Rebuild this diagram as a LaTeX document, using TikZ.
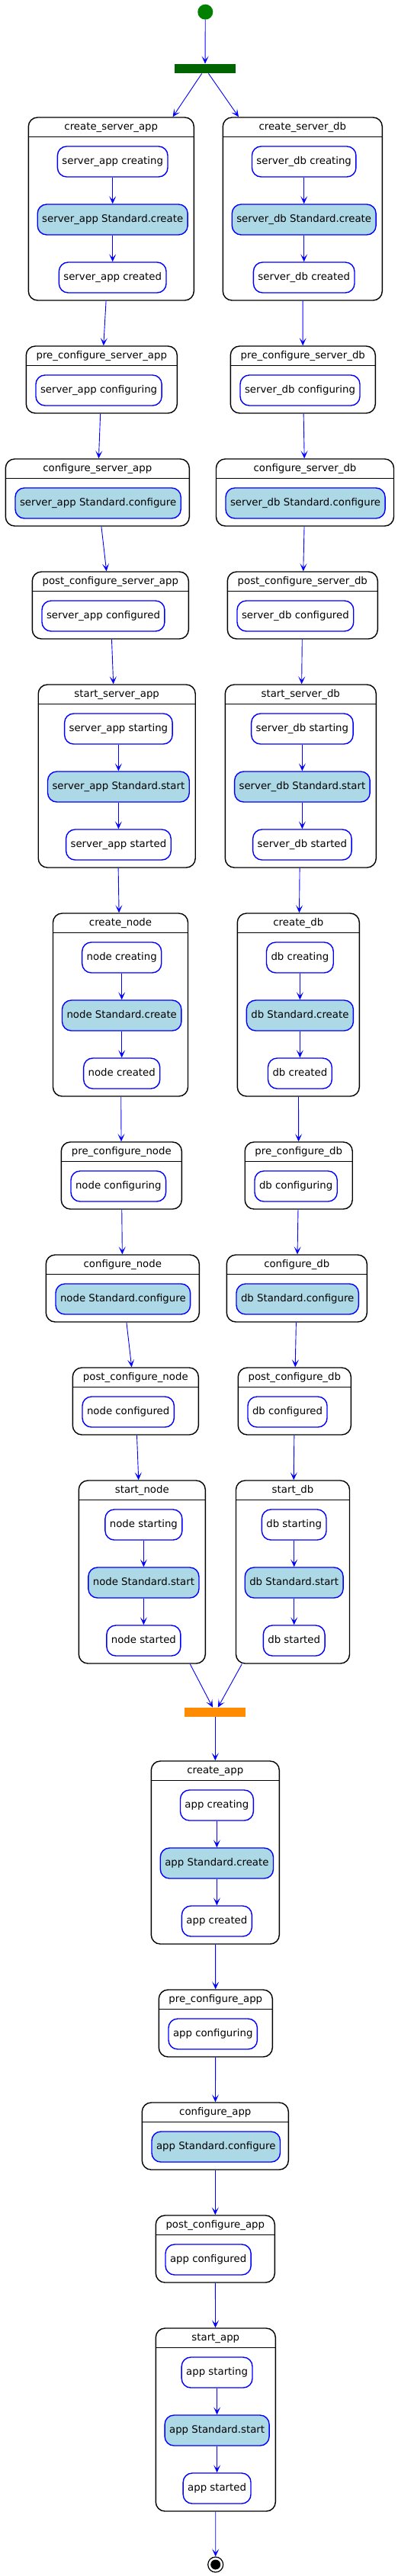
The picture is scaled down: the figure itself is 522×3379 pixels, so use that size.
\documentclass[tikz,border=0pt]{standalone}
\usepackage{fontspec}
\setmainfont{DejaVu Sans}
\usetikzlibrary{arrows.meta}
\definecolor{stdblue}{HTML}{ADD8E6}
\definecolor{forkgreen}{HTML}{006400}
\definecolor{startgreen}{HTML}{008000}
\definecolor{joinorange}{HTML}{FF8C00}

\begin{document}
\begin{tikzpicture}[x=1pt, y=-1pt, >={Stealth[length=10pt, width=9pt, inset=5pt]},
		every node/.style={font=\fontsize{13.3}{16}\selectfont, text height=9.6pt, text depth=2.8pt},
		comp/.style={draw, line width=1.4pt, rounded corners=12pt, inner sep=0pt},
		title/.style={inner sep=0pt},
		act/.style={draw=blue, line width=1.4pt, rounded corners=12pt, minimum height=40pt, inner xsep=6pt, inner ysep=0pt, fill=white},
		std/.style={act, fill=stdblue},
		sep/.style={line width=1.4pt},
		flow/.style={draw=blue, line width=0.9pt, ->},
		bar/.style={inner sep=0pt, minimum width=80pt, minimum height=8pt}]
		\useasboundingbox (0,0) rectangle (522,3379);
		%start and fork
			\node[circle, fill=startgreen, inner sep=0pt, minimum size=20pt] (start) at (269.3,15.7) {};
			\node[bar, fill=forkgreen] (fork) at (269,90) {};
			\draw[flow] (start) -- (fork);
		%left column
			%create_server_app
			\node[comp, minimum width=217pt, minimum height=240pt] (csa) at (145.8,274) {};
			\node[title] (csa-t) at (145.8,167) {create\_server\_app};
			\draw[sep] ([yshift=-26pt]csa.north west) -- ([yshift=-26pt]csa.north east);
			\node[act] (csa1) at (147.7,212) {server\_app creating};
			\node[std] (csa2) at (147.7,288) {server\_app Standard.create};
			\node[act] (csa3) at (147.7,364) {server\_app created};
			\draw[flow] (csa1) -- (csa2);
			\draw[flow] (csa2) -- (csa3);
			%pre_configure_server_app
			\node[comp, minimum width=198pt, minimum height=88pt] (pcsa) at (133.3,498) {};
			\node[title] (pcsa-t) at (133.3,467) {pre\_configure\_server\_app};
			\draw[sep] ([yshift=-26pt]pcsa.north west) -- ([yshift=-26pt]pcsa.north east);
			\node[act, anchor=west] (pcsa1) at (46.3,512) {server\_app configuring};
			%configure_server_app
			\node[comp, minimum width=241pt, minimum height=88pt] (cfsa) at (127.8,646) {};
			\node[title] (cfsa-t) at (127.8,615) {configure\_server\_app};
			\draw[sep] ([yshift=-26pt]cfsa.north west) -- ([yshift=-26pt]cfsa.north east);
			\node[std, anchor=west] (cfsa1) at (19.3,660) {server\_app Standard.configure};
			%post_configure_server_app
			\node[comp, minimum width=205pt, minimum height=88pt] (posa) at (144.8,794) {};
			\node[title] (posa-t) at (144.8,763) {post\_configure\_server\_app};
			\draw[sep] ([yshift=-26pt]posa.north west) -- ([yshift=-26pt]posa.north east);
			\node[act, anchor=west] (posa1) at (54.3,808) {server\_app configured};
			%start_server_app
			\node[comp, minimum width=206pt, minimum height=240pt] (ssa) at (153.2,1018) {};
			\node[title] (ssa-t) at (153.2,911) {start\_server\_app};
			\draw[sep] ([yshift=-26pt]ssa.north west) -- ([yshift=-26pt]ssa.north east);
			\node[act] (ssa1) at (155.4,956) {server\_app starting};
			\node[std] (ssa2) at (155.4,1032) {server\_app Standard.start};
			\node[act] (ssa3) at (155.4,1108) {server\_app started};
			\draw[flow] (ssa1) -- (ssa2);
			\draw[flow] (ssa2) -- (ssa3);
			%create_node
			\node[comp, minimum width=177pt, minimum height=240pt] (cn) at (158,1318) {};
			\node[title] (cn-t) at (158,1211) {create\_node};
			\draw[sep] ([yshift=-26pt]cn.north west) -- ([yshift=-26pt]cn.north east);
			\node[act] (cn1) at (159.7,1256) {node creating};
			\node[std] (cn2) at (159.7,1332) {node Standard.create};
			\node[act] (cn3) at (159.7,1408) {node created};
			\draw[flow] (cn1) -- (cn2);
			\draw[flow] (cn2) -- (cn3);
			%pre_configure_node
			\node[comp, minimum width=158pt, minimum height=88pt] (pcn) at (159.3,1542) {};
			\node[title] (pcn-t) at (159.3,1511) {pre\_configure\_node};
			\draw[sep] ([yshift=-26pt]pcn.north west) -- ([yshift=-26pt]pcn.north east);
			\node[act, anchor=west] (pcn1) at (92.3,1556) {node configuring};
			%configure_node
			\node[comp, minimum width=201pt, minimum height=88pt] (cfn) at (160.8,1690) {};
			\node[title] (cfn-t) at (160.8,1659) {configure\_node};
			\draw[sep] ([yshift=-26pt]cfn.north west) -- ([yshift=-26pt]cfn.north east);
			\node[std, anchor=west] (cfn1) at (72.3,1704) {node Standard.configure};
			%post_configure_node
			\node[comp, minimum width=165pt, minimum height=88pt] (pocn) at (177.8,1838) {};
			\node[title] (pocn-t) at (177.8,1807) {post\_configure\_node};
			\draw[sep] ([yshift=-26pt]pocn.north west) -- ([yshift=-26pt]pocn.north east);
			\node[act, anchor=west] (pocn1) at (107.3,1852) {node configured};
			%start_node
			\node[comp, minimum width=166pt, minimum height=240pt] (sn) at (186.3,2062) {};
			\node[title] (sn-t) at (186.3,1955) {start\_node};
			\draw[sep] ([yshift=-26pt]sn.north west) -- ([yshift=-26pt]sn.north east);
			\node[act] (sn1) at (188.4,2000) {node starting};
			\node[std] (sn2) at (188.4,2076) {node Standard.start};
			\node[act] (sn3) at (188.4,2152) {node started};
			\draw[flow] (sn1) -- (sn2);
			\draw[flow] (sn2) -- (sn3);
			%connectors
			\draw[flow] (fork) -- (csa);
			\draw[flow] (csa) -- (pcsa);
			\draw[flow] (pcsa) -- (cfsa);
			\draw[flow] (cfsa) -- (posa);
			\draw[flow] (posa) -- (ssa);
			\draw[flow] (ssa) -- (cn);
			\draw[flow] (cn) -- (pcn);
			\draw[flow] (pcn) -- (cfn);
			\draw[flow] (cfn) -- (pocn);
			\draw[flow] (pocn) -- (sn);
		%right column
			%create_server_db
			\node[comp, minimum width=209pt, minimum height=240pt] (csd) at (396.8,274) {};
			\node[title] (csd-t) at (396.8,167) {create\_server\_db};
			\draw[sep] ([yshift=-26pt]csd.north west) -- ([yshift=-26pt]csd.north east);
			\node[act] (csd1) at (398.7,212) {server\_db creating};
			\node[std] (csd2) at (398.7,288) {server\_db Standard.create};
			\node[act] (csd3) at (398.7,364) {server\_db created};
			\draw[flow] (csd1) -- (csd2);
			\draw[flow] (csd2) -- (csd3);
			%pre_configure_server_db
			\node[comp, minimum width=190pt, minimum height=88pt] (pcsd) at (397.3,498) {};
			\node[title] (pcsd-t) at (397.3,467) {pre\_configure\_server\_db};
			\draw[sep] ([yshift=-26pt]pcsd.north west) -- ([yshift=-26pt]pcsd.north east);
			\node[act, anchor=west] (pcsd1) at (314.3,512) {server\_db configuring};
			%configure_server_db
			\node[comp, minimum width=233pt, minimum height=88pt] (cfsd) at (400,646) {};
			\node[title] (cfsd-t) at (400,615) {configure\_server\_db};
			\draw[sep] ([yshift=-26pt]cfsd.north west) -- ([yshift=-26pt]cfsd.north east);
			\node[std, anchor=west] (cfsd1) at (295.3,660) {server\_db Standard.configure};
			%post_configure_server_db
			\node[comp, minimum width=197pt, minimum height=88pt] (posd) at (396.8,794) {};
			\node[title] (posd-t) at (396.8,763) {post\_configure\_server\_db};
			\draw[sep] ([yshift=-26pt]posd.north west) -- ([yshift=-26pt]posd.north east);
			\node[act, anchor=west] (posd1) at (310.3,808) {server\_db configured};
			%start_server_db
			\node[comp, minimum width=198pt, minimum height=240pt] (ssd) at (394.3,1018) {};
			\node[title] (ssd-t) at (394.3,911) {start\_server\_db};
			\draw[sep] ([yshift=-26pt]ssd.north west) -- ([yshift=-26pt]ssd.north east);
			\node[act] (ssd1) at (396.4,956) {server\_db starting};
			\node[std] (ssd2) at (396.4,1032) {server\_db Standard.start};
			\node[act] (ssd3) at (396.4,1108) {server\_db started};
			\draw[flow] (ssd1) -- (ssd2);
			\draw[flow] (ssd2) -- (ssd3);
			%create_db
			\node[comp, minimum width=160pt, minimum height=240pt] (cd) at (391.3,1318) {};
			\node[title] (cd-t) at (391.3,1211) {create\_db};
			\draw[sep] ([yshift=-26pt]cd.north west) -- ([yshift=-26pt]cd.north east);
			\node[act] (cd1) at (393.4,1256) {db creating};
			\node[std] (cd2) at (393.4,1332) {db Standard.create};
			\node[act] (cd3) at (393.4,1408) {db created};
			\draw[flow] (cd1) -- (cd2);
			\draw[flow] (cd2) -- (cd3);
			%pre_configure_db
			\node[comp, minimum width=141pt, minimum height=88pt] (pcd) at (391.7,1542) {};
			\node[title] (pcd-t) at (391.7,1511) {pre\_configure\_db};
			\draw[sep] ([yshift=-26pt]pcd.north west) -- ([yshift=-26pt]pcd.north east);
			\node[act, anchor=west] (pcd1) at (333.3,1556) {db configuring};
			%configure_db
			\node[comp, minimum width=184pt, minimum height=88pt] (cfd) at (389.3,1690) {};
			\node[title] (cfd-t) at (389.3,1659) {configure\_db};
			\draw[sep] ([yshift=-26pt]cfd.north west) -- ([yshift=-26pt]cfd.north east);
			\node[std, anchor=west] (cfd1) at (309.3,1704) {db Standard.configure};
			%post_configure_db
			\node[comp, minimum width=148pt, minimum height=88pt] (pocd) at (386.3,1838) {};
			\node[title] (pocd-t) at (386.3,1807) {post\_configure\_db};
			\draw[sep] ([yshift=-26pt]pocd.north west) -- ([yshift=-26pt]pocd.north east);
			\node[act, anchor=west] (pocd1) at (324.3,1852) {db configured};
			%start_db
			\node[comp, minimum width=149pt, minimum height=240pt] (sd) at (384,2062) {};
			\node[title] (sd-t) at (384,1955) {start\_db};
			\draw[sep] ([yshift=-26pt]sd.north west) -- ([yshift=-26pt]sd.north east);
			\node[act] (sd1) at (385.7,2000) {db starting};
			\node[std] (sd2) at (385.7,2076) {db Standard.start};
			\node[act] (sd3) at (385.7,2152) {db started};
			\draw[flow] (sd1) -- (sd2);
			\draw[flow] (sd2) -- (sd3);
			%connectors
			\draw[flow] (fork) -- (csd);
			\draw[flow] (csd) -- (pcsd);
			\draw[flow] (pcsd) -- (cfsd);
			\draw[flow] (cfsd) -- (posd);
			\draw[flow] (posd) -- (ssd);
			\draw[flow] (ssd) -- (cd);
			\draw[flow] (cd) -- (pcd);
			\draw[flow] (pcd) -- (cfd);
			\draw[flow] (cfd) -- (pocd);
			\draw[flow] (pocd) -- (sd);
		%join and app
			\node[bar, fill=joinorange] (join) at (282.3,2246) {};
			\draw[flow] (sn) -- (join);
			\draw[flow] (sd) -- (join);
			%create_app
			\node[comp, minimum width=168pt, minimum height=240pt] (ca) at (282.3,2430) {};
			\node[title] (ca-t) at (282.3,2323) {create\_app};
			\draw[sep] ([yshift=-26pt]ca.north west) -- ([yshift=-26pt]ca.north east);
			\node[act] (ca1) at (284.4,2368) {app creating};
			\node[std] (ca2) at (284.4,2444) {app Standard.create};
			\node[act] (ca3) at (284.4,2520) {app created};
			\draw[flow] (ca1) -- (ca2);
			\draw[flow] (ca2) -- (ca3);
			%pre_configure_app
			\node[comp, minimum width=149pt, minimum height=88pt] (pca) at (282.8,2654) {};
			\node[title] (pca-t) at (282.8,2623) {pre\_configure\_app};
			\draw[sep] ([yshift=-26pt]pca.north west) -- ([yshift=-26pt]pca.north east);
			\node[act, anchor=west] (pca1) at (220.3,2668) {app configuring};
			%configure_app
			\node[comp, minimum width=192pt, minimum height=88pt] (cfa) at (282.3,2802) {};
			\node[title] (cfa-t) at (282.3,2771) {configure\_app};
			\draw[sep] ([yshift=-26pt]cfa.north west) -- ([yshift=-26pt]cfa.north east);
			\node[std, anchor=west] (cfa1) at (198.3,2816) {app Standard.configure};
			%post_configure_app
			\node[comp, minimum width=156pt, minimum height=88pt] (poca) at (282.3,2950) {};
			\node[title] (poca-t) at (282.3,2919) {post\_configure\_app};
			\draw[sep] ([yshift=-26pt]poca.north west) -- ([yshift=-26pt]poca.north east);
			\node[act, anchor=west] (poca1) at (216.3,2964) {app configured};
			%start_app
			\node[comp, minimum width=157pt, minimum height=240pt] (sa) at (282.8,3174) {};
			\node[title] (sa-t) at (282.8,3067) {start\_app};
			\draw[sep] ([yshift=-26pt]sa.north west) -- ([yshift=-26pt]sa.north east);
			\node[act] (sa1) at (284.6,3112) {app starting};
			\node[std] (sa2) at (284.6,3188) {app Standard.start};
			\node[act] (sa3) at (284.6,3264) {app started};
			\draw[flow] (sa1) -- (sa2);
			\draw[flow] (sa2) -- (sa3);
			%end
			\node[circle, draw, line width=1.2pt, fill=white, inner sep=0pt, minimum size=20pt] (end) at (282.7,3364) {};
			\fill (end.center) circle (6.5pt);
			%connectors
			\draw[flow] (join) -- (ca);
			\draw[flow] (ca) -- (pca);
			\draw[flow] (pca) -- (cfa);
			\draw[flow] (cfa) -- (poca);
			\draw[flow] (poca) -- (sa);
			\draw[flow] (sa) -- (end);
		\end{tikzpicture}
\end{document}
